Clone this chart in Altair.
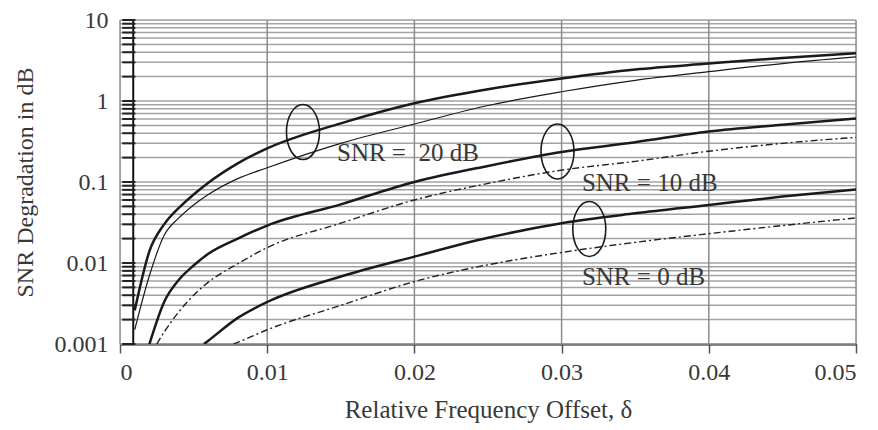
import altair as alt
import pandas as pd

# ---------------- data ----------------
# SNR = 20 dB
thick20_x = [0.001, 0.002, 0.003, 0.004, 0.005, 0.006, 0.008, 0.010, 0.015, 0.020, 0.025, 0.030, 0.035, 0.040, 0.045, 0.050]
thick20_y = [0.0026, 0.014, 0.030, 0.048, 0.070, 0.098, 0.17, 0.26, 0.53, 0.94, 1.40, 1.90, 2.45, 2.90, 3.40, 3.90]
thin20_x = [0.001, 0.002, 0.003, 0.004, 0.005, 0.006, 0.008, 0.010, 0.015, 0.020, 0.025, 0.030, 0.035, 0.040, 0.045, 0.050]
thin20_y = [0.0015, 0.007, 0.022, 0.036, 0.052, 0.070, 0.11, 0.15, 0.30, 0.52, 0.88, 1.30, 1.80, 2.30, 2.90, 3.50]
# SNR = 10 dB
thick10_x = [0.002, 0.003, 0.004, 0.005, 0.006, 0.008, 0.010, 0.015, 0.020, 0.025, 0.030, 0.035, 0.040, 0.045, 0.050]
thick10_y = [0.001, 0.0033, 0.0062, 0.0093, 0.013, 0.020, 0.029, 0.053, 0.10, 0.158, 0.235, 0.31, 0.42, 0.51, 0.61]
dash10_x = [0.0025, 0.003, 0.004, 0.005, 0.006, 0.008, 0.010, 0.015, 0.020, 0.025, 0.030, 0.035, 0.040, 0.045, 0.050]
dash10_y = [0.001, 0.0014, 0.0025, 0.0040, 0.0058, 0.0098, 0.0155, 0.031, 0.060, 0.096, 0.140, 0.180, 0.240, 0.300, 0.356]
# SNR = 0 dB
thick0_x = [0.0057, 0.006, 0.008, 0.010, 0.015, 0.020, 0.025, 0.030, 0.035, 0.040, 0.045, 0.050]
thick0_y = [0.001, 0.0011, 0.0021, 0.0033, 0.0068, 0.012, 0.0205, 0.031, 0.041, 0.052, 0.066, 0.081]
dash0_x = [0.0077, 0.008, 0.010, 0.015, 0.020, 0.025, 0.030, 0.035, 0.040, 0.045, 0.050]
dash0_y = [0.001, 0.00105, 0.0015, 0.0030, 0.0059, 0.0095, 0.0135, 0.018, 0.023, 0.029, 0.036]

# axis ticks
x_ticks = [0, 0.01, 0.02, 0.03, 0.04, 0.05]
y_ticks = [0.001, 0.01, 0.1, 1, 10]
y_grid = [m * 10.0 ** e for e in (-3, -2, -1, 0) for m in range(1, 10)] + [10]
axis_cross_x = [0.0009]

# annotations
ellipse_x = [0.01243, 0.02972, 0.03188]
ellipse_y = [0.414, 0.238, 0.0263]
label_text = ["SNR =\u00a0 20 dB", "SNR = 10 dB", "SNR = 0 dB"]
label_x = [0.01474, 0.03138, 0.03138]
label_y = [0.228, 0.097, 0.0068]

FONT = "Liberation Serif"
TXT = "#383838"

x_axis = alt.Axis(
    values=x_ticks, format=".2~f", title="Relative Frequency Offset, δ", grid=False,
    domain=True, domainColor="#111111", domainWidth=2,
    ticks=True, tickSize=9, tickColor="#555555", tickWidth=1.5,
    labelFont=FONT, labelFontSize=24, labelColor=TXT, labelPadding=7,
    titleFont=FONT, titleFontSize=25, titleFontWeight="normal", titleColor=TXT,
    titleX=368, titleY=65, titleBaseline="middle", titleAlign="center",
)
y_axis = alt.Axis(
    values=y_ticks, format="~g", title="SNR Degradation in dB", grid=False,
    domain=False, ticks=False,
    labelFont=FONT, labelFontSize=24, labelColor=TXT, labelPadding=12,
    titleFont=FONT, titleFontSize=24, titleFontWeight="normal", titleColor=TXT,
    titleX=-95, titleY=162, titleBaseline="middle", titleAlign="center", titleAngle=-90,
)
xs = alt.Scale(domain=[0, 0.05], nice=False, zero=False)
ys = alt.Scale(type="log", domain=[0.001, 10], nice=False)


def X(f="x"):
    return alt.X(f"{f}:Q", scale=xs, axis=x_axis)


def Y(f="y"):
    return alt.Y(f"{f}:Q", scale=ys, axis=y_axis)


def series(name, xv, yv):
    return pd.DataFrame({"x": xv, "y": yv, "s": name})


thick_df = pd.concat([
    series("t20", thick20_x, thick20_y),
    series("t10", thick10_x, thick10_y),
    series("t0", thick0_x, thick0_y),
])
thin_df = series("a20", thin20_x, thin20_y)
dash_df = pd.concat([
    series("d10", dash10_x, dash10_y),
    series("d0", dash0_x, dash0_y),
])

hgrid = alt.Chart(pd.DataFrame({"y": y_grid})).mark_rule(color="#a3a3a3", strokeWidth=1.5).encode(y=Y())
vgrid = alt.Chart(pd.DataFrame({"x": x_ticks})).mark_rule(color="#8c8c8c", strokeWidth=1.5).encode(x=X())

axis_line = alt.Chart(pd.DataFrame({"x": axis_cross_x})).mark_rule(color="#111111", strokeWidth=2).encode(x=X())
# small outward tick marks on the crossing axis line (a short horizontal stroke to the left)
axis_minor = alt.Chart(pd.DataFrame({"x": axis_cross_x * len(y_grid), "y": y_grid})).mark_point(
    shape="M -2 0 L 0.4 0", size=121, filled=False, color="#222222", strokeWidth=2, opacity=1
).encode(x=X(), y=Y())

thick = alt.Chart(thick_df).mark_line(color="#1a1a1a", strokeWidth=2.5, interpolate="monotone", clip=True).encode(
    x=X(), y=Y(), detail="s:N", order="x:Q")
thin = alt.Chart(thin_df).mark_line(color="#1a1a1a", strokeWidth=1.2, interpolate="monotone", clip=True).encode(
    x=X(), y=Y(), detail="s:N", order="x:Q")
dashed = alt.Chart(dash_df).mark_line(color="#222222", strokeWidth=1.4, strokeDash=[7, 3, 2, 3],
                                      interpolate="monotone", clip=True).encode(
    x=X(), y=Y(), detail="s:N", order="x:Q")

ellipse_path = "M -0.6 0 A 0.6 1 0 1 0 0.6 0 A 0.6 1 0 1 0 -0.6 0 Z"
ellipses = alt.Chart(pd.DataFrame({"x": ellipse_x, "y": ellipse_y})).mark_point(
    shape=ellipse_path, size=3025, filled=False, color="#1a1a1a", strokeWidth=1.6, opacity=1
).encode(x=X(), y=Y())

labels = alt.Chart(pd.DataFrame({"x": label_x, "y": label_y, "t": label_text})).mark_text(
    align="left", baseline="middle", font=FONT, fontSize=25, color=TXT
).encode(x=X(), y=Y(), text="t:N")

chart = alt.layer(hgrid, vgrid, axis_line, axis_minor, thick, thin, dashed, ellipses, labels).properties(
    width=736, height=324,
    autosize=alt.AutoSizeParams(type="none"),
    padding={"left": 120, "top": 20, "right": 22, "bottom": 86},
).configure_view(stroke=None).configure(background="white")

chart.save("out.html", embed_options={"renderer": "svg", "actions": False})
